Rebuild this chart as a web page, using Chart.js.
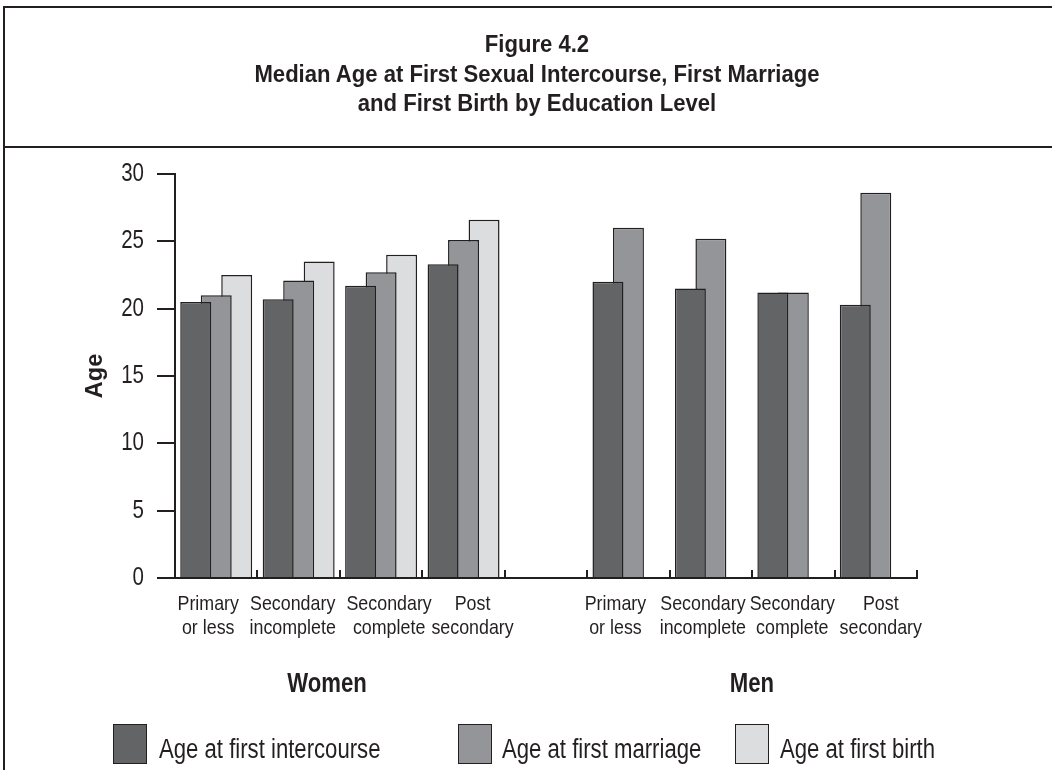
<!DOCTYPE html>
<html>
<head>
<meta charset="utf-8">
<title>Figure 4.2</title>
<script src="https://cdn.jsdelivr.net/npm/chart.js@4.4.1/dist/chart.umd.min.js"></script>
<style>
  html, body { margin: 0; padding: 0; background: #fff; }
  #wrap { position: relative; width: 1052px; height: 770px; overflow: hidden; color: #231f20;
          font-family: "Liberation Sans", Arial, sans-serif; }
  #grafico { position: absolute; left: 0; top: 0; }
  .linha { position: absolute; background: #231f20; }
  #titulo { position: absolute; left: 4px; width: 1066px; top: 30px; text-align: center;
            font-weight: bold; font-size: 23.5px; line-height: 29.5px; transform: scaleX(0.94);
            transform-origin: 533px 0; }
  .grupo { position: absolute; top: 668px; width: 200px; text-align: center; font-weight: bold;
           font-size: 27px; line-height: 30px; white-space: nowrap; }
  .caixa { position: absolute; top: 724px; width: 32px; height: 38px; border: 1.5px solid #231f20; }
  .rotulo { position: absolute; top: 729px; font-size: 27px; line-height: 41px; white-space: nowrap;
            transform-origin: left center; }
</style>
</head>
<body>
<div id="wrap">
  <canvas id="grafico" width="1052" height="770"></canvas>
  <div class="linha" style="left:3px; top:6px; width:2px; height:770px;"></div>
  <div class="linha" style="left:3px; top:6px; width:1060px; height:2px;"></div>
  <div class="linha" style="left:3px; top:146px; width:1060px; height:2px;"></div>
  <div id="titulo">Figure 4.2<br>Median Age at First Sexual Intercourse, First Marriage<br>and First Birth by Education Level</div>
  <div class="grupo" style="left:227px;">Women</div>
  <div class="grupo" style="left:652px;">Men</div>
  <div class="caixa" style="left:113px; background:#636466;"></div>
  <div class="rotulo" style="left:159px;">Age at first intercourse</div>
  <div class="caixa" style="left:458px; background:#939598;"></div>
  <div class="rotulo" style="left:502px;">Age at first marriage</div>
  <div class="caixa" style="left:735px; background:#dcdddf;"></div>
  <div class="rotulo" style="left:780px;">Age at first birth</div>
</div>
<script>
// Dados
const categorias = [
  ['Primary', 'or less'], ['Secondary', 'incomplete'], ['Secondary', 'complete'], ['Post', 'secondary'],
  '',
  ['Primary', 'or less'], ['Secondary', 'incomplete'], ['Secondary', 'complete'], ['Post', 'secondary']
];
const idadeRelacao    = [20.5, 20.7, 21.7, 23.3, null, 22.0, 21.5, 21.2, 20.3];
const idadeCasamento  = [21.0, 22.1, 22.7, 25.1, null, 26.0, 25.2, 21.2, 28.6];
const idadeNascimento = [22.5, 23.5, 24.0, 26.6, null, null, null, null, null];
const nomesSeries = ['Age at first intercourse', 'Age at first marriage', 'Age at first birth'];
const eixoY = { min: 0, max: 30, passo: 5 };

// Estilo
const corLinha = '#231f20';
const cores = ['#636466', '#939598', '#dcdddf'];
// pequeno ajuste horizontal dos rótulos, como no original
const ajusteRotulo = [-8, -6, 8, 9, 0, -13, -8, -1, 5];

// Fonte estreita instalada? Se não, comprime a Liberation Sans na horizontal
function temFonte(nome) {
  const c = document.createElement('canvas').getContext('2d');
  const txt = 'Age at first intercourse 0123';
  c.font = '40px monospace';
  const a = c.measureText(txt).width;
  c.font = `40px "${nome}", monospace`;
  return c.measureText(txt).width !== a;
}
const estreita = temFonte('Liberation Sans Narrow');
const familia = estreita ? '"Liberation Sans Narrow", sans-serif' : '"Liberation Sans", Arial, sans-serif';
const k = estreita ? 1 : 0.82;
const kx = estreita ? 1.04 : 0.85;

document.querySelectorAll('.grupo, .rotulo').forEach(el => {
  el.style.fontFamily = familia;
  if (!estreita) el.style.transform = 'scaleX(0.82)';
});

Chart.defaults.font.family = '"Liberation Sans", Arial, sans-serif';
Chart.defaults.color = corLinha;

function textoEstreito(ctx, txt, x, y, alinhar, escala) {
  ctx.save();
  ctx.translate(x, y);
  ctx.scale(escala, 1);
  ctx.textAlign = alinhar;
  ctx.fillText(txt, 0, 0);
  ctx.restore();
}

// Rótulos dos eixos (estreitos) e marcas do eixo x voltadas para dentro
const eixosEstreitos = {
  id: 'eixosEstreitos',
  afterDatasetsDraw(chart) {
    const { x, y } = chart.scales;
    const base = chart.chartArea.bottom;
    const ctx = chart.ctx;
    ctx.save();
    ctx.strokeStyle = corLinha;
    ctx.lineWidth = 2;
    for (let i = 0; i <= categorias.length; i++) {
      const px = Math.round(x.getPixelForValue(i - 0.5));
      ctx.beginPath();
      ctx.moveTo(px, base);
      ctx.lineTo(px, base - 8);
      ctx.stroke();
    }
    ctx.fillStyle = corLinha;
    ctx.textBaseline = 'middle';
    ctx.font = `21px ${familia}`;
    categorias.forEach((cat, i) => {
      const linhas = Array.isArray(cat) ? cat : [cat];
      const px = x.getPixelForValue(i) + ajusteRotulo[i];
      linhas.forEach((l, j) => textoEstreito(ctx, l, px, base + 26 + j * 24, 'center', kx));
    });
    ctx.font = `25px ${familia}`;
    y.ticks.forEach(t => {
      textoEstreito(ctx, String(t.value), chart.chartArea.left - 31, y.getPixelForValue(t.value), 'right', k);
    });
    ctx.restore();
  }
};

const series = [idadeRelacao, idadeCasamento, idadeNascimento];
new Chart(document.getElementById('grafico'), {
  type: 'bar',
  data: {
    labels: categorias,
    datasets: series.map((d, i) => ({
      label: nomesSeries[i],
      data: d,
      backgroundColor: cores[i],
      borderColor: corLinha,
      borderWidth: 1.5,
      barPercentage: 1.51,
      categoryPercentage: 0.746
    }))
  },
  options: {
    responsive: false,
    maintainAspectRatio: false,
    devicePixelRatio: 1,
    animation: false,
    events: [],
    layout: { padding: { top: 174, right: 135, bottom: 0, left: 0 } },
    plugins: { legend: { display: false }, tooltip: { enabled: false } },
    scales: {
      x: {
        afterFit: s => { s.height = 192; },
        grid: { display: true, drawOnChartArea: false, drawTicks: false },
        border: { display: true, width: 2, color: corLinha, z: 1 },
        ticks: { display: false, autoSkip: false, maxRotation: 0 }
      },
      y: {
        min: eixoY.min, max: eixoY.max,
        afterFit: s => { s.width = 175; },
        grid: { drawOnChartArea: false, drawTicks: true, tickLength: 18, lineWidth: 2, color: corLinha },
        border: { display: true, width: 2, color: corLinha },
        ticks: { display: false, stepSize: eixoY.passo },
        title: {
          display: true, text: 'Age', color: corLinha,
          font: { size: 23.5, weight: 'bold' },
          padding: { top: 81, bottom: 0 }
        }
      }
    }
  },
  plugins: [eixosEstreitos]
});
</script>
</body>
</html>
